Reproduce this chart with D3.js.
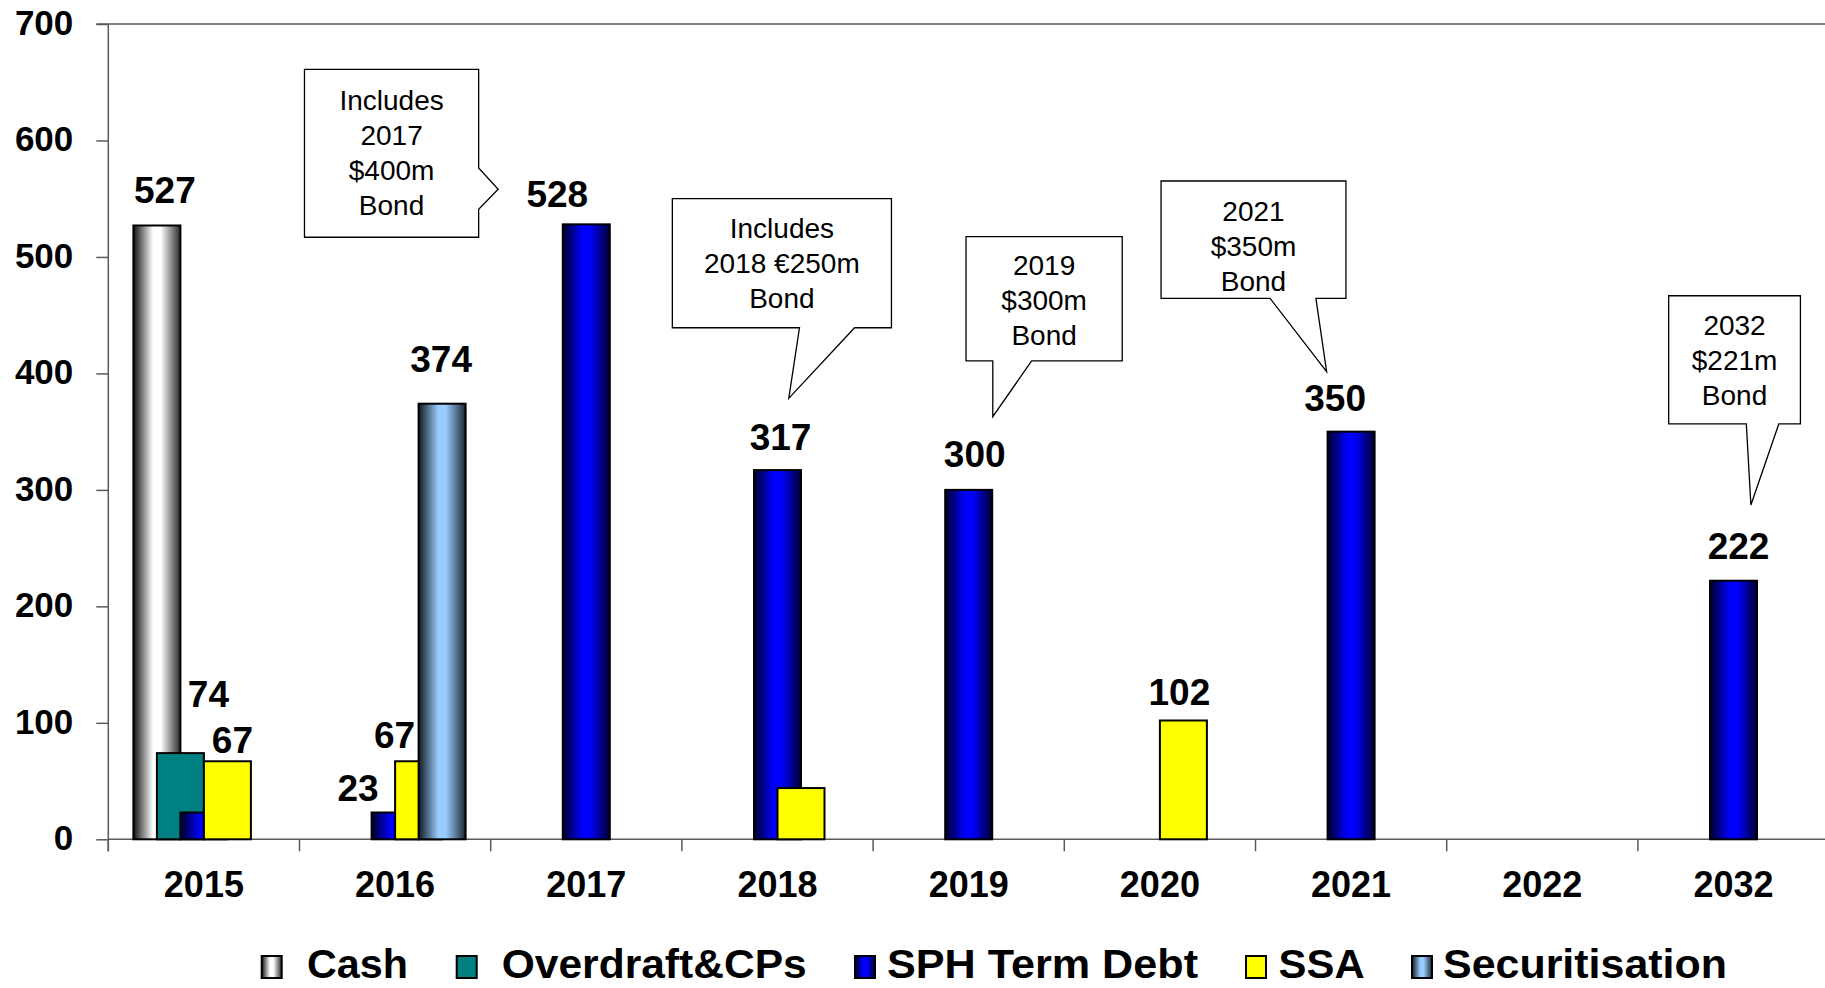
<!DOCTYPE html>
<html>
<head>
<meta charset="utf-8">
<script src="https://cdn.jsdelivr.net/npm/d3@7"></script>
<style>
  body { margin: 0; background: #fff; }
  text { font-family: "Liberation Sans", Arial, sans-serif; fill: #000; }
</style>
</head>
<body>
<div id="chart"></div>
<script>
// chart data
var categories = ["2015", "2016", "2017", "2018", "2019", "2020", "2021", "2022", "2032"];
var seriesNames = ["Cash", "Overdraft&CPs", "SPH Term Debt", "SSA", "Securitisation"];
var cash = [527, 0, 0, 0, 0, 0, 0, 0, 0];
var overdraft = [74, 0, 0, 0, 0, 0, 0, 0, 0];
var sphTermDebt = [23, 23, 528, 317, 300, 0, 350, 0, 222];
var ssa = [67, 67, 0, 44, 0, 102, 0, 0, 0];
var securitisation = [0, 374, 0, 0, 0, 0, 0, 0, 0];
var yTicks = [0, 100, 200, 300, 400, 500, 600, 700];

var seriesValues = [cash, overdraft, sphTermDebt, ssa, securitisation];

// callout notes
var noteTexts = [
  ["Includes", "2017", "$400m", "Bond"],
  ["Includes", "2018 €250m", "Bond"],
  ["2019", "$300m", "Bond"],
  ["2021", "$350m", "Bond"],
  ["2032", "$221m", "Bond"]
];

// layout
var svgWidth = 1825;
var svgHeight = 988;
var margin = { top: 24, left: 108.3 };
var width = 1720.8;
var height = 815.3;

var svg = d3.select("#chart")
  .append("svg")
  .attr("width", svgWidth)
  .attr("height", svgHeight);

var defs = svg.append("defs");

function cylinder(id, edgeL, mid, edgeR) {
  var g = defs.append("linearGradient").attr("id", id)
    .attr("x1", "0").attr("x2", "1").attr("y1", "0").attr("y2", "0");
  g.append("stop").attr("offset", "0").attr("stop-color", edgeL);
  g.append("stop").attr("offset", "0.42").attr("stop-color", mid);
  g.append("stop").attr("offset", "0.58").attr("stop-color", mid);
  g.append("stop").attr("offset", "1").attr("stop-color", edgeR);
}
cylinder("gCash", "#111", "#ffffff", "#2a2a2a");
cylinder("gSph", "#000028", "#0000ff", "#000030");
cylinder("gSec", "#101820", "#99ccff", "#1c2630");

var fills = ["url(#gCash)", "#008080", "url(#gSph)", "#ffff00", "url(#gSec)"];

var chartGroup = svg.append("g")
  .attr("transform", `translate(${margin.left}, ${margin.top})`);

var xBand = d3.scaleBand().domain(categories).range([0, width]).padding(0);
var xUnit = d3.scaleLinear().domain([0, categories.length]).range([0, width]);
var yScale = d3.scaleLinear().domain([0, 700]).range([height, 0]);

var bw = xBand.bandwidth();
var barW = bw * 0.2458;
var barStep = bw * 0.1229;
var groupStart = (bw - (barStep * 4 + barW)) / 2;

function barX(si, ci) {
  return xBand(categories[ci]) + groupStart + si * barStep;
}

// axes
var axisColor = "#5a5a5a";
var leftAxis = d3.axisLeft(yScale).tickValues(yTicks).tickSize(12).tickPadding(23);
var yAxisG = chartGroup.append("g").call(leftAxis);
yAxisG.select(".domain").remove();
yAxisG.selectAll("line").attr("stroke", axisColor).attr("stroke-width", 1.5);
yAxisG.selectAll("text")
  .attr("font-size", 35).attr("font-weight", "bold")
  .attr("font-family", "Liberation Sans, Arial, sans-serif")
  .attr("fill", "#000").attr("dy", "0.3em");

var xTickPos = d3.range(categories.length + 1).map(d => xUnit(d));
chartGroup.selectAll(".xtick")
  .data(xTickPos)
  .enter()
  .append("line")
  .attr("x1", d => d).attr("x2", d => d)
  .attr("y1", height).attr("y2", height + 12)
  .attr("stroke", axisColor).attr("stroke-width", 1.5);

chartGroup.append("line")
  .attr("x1", 0).attr("x2", width)
  .attr("y1", height).attr("y2", height)
  .attr("stroke", axisColor).attr("stroke-width", 1.5);
chartGroup.append("line")
  .attr("x1", -12).attr("x2", width)
  .attr("y1", 0).attr("y2", 0)
  .attr("stroke", axisColor).attr("stroke-width", 1.5);
chartGroup.append("line")
  .attr("x1", 0).attr("x2", 0)
  .attr("y1", 0).attr("y2", height + 12)
  .attr("stroke", axisColor).attr("stroke-width", 1.5);

chartGroup.selectAll(".xlabel")
  .data(categories)
  .enter()
  .append("text")
  .attr("x", d => xBand(d) + bw / 2)
  .attr("y", height + 58)
  .attr("text-anchor", "middle")
  .attr("font-size", 36)
  .attr("font-weight", "bold")
  .text(d => d);

// bars, drawn series by series so later ones overlap earlier
seriesValues.forEach(function(vals, si) {
  var rows = vals.map((v, ci) => ({ v: v, ci: ci })).filter(d => d.v > 0);
  chartGroup.selectAll(null)
    .data(rows)
    .enter()
    .append("rect")
    .attr("x", d => barX(si, d.ci))
    .attr("y", d => yScale(d.v))
    .attr("width", barW)
    .attr("height", d => height - yScale(d.v))
    .attr("fill", fills[si])
    .attr("stroke", "#000")
    .attr("stroke-width", 2);
});

// value labels (series index, category index, nudge x, nudge y)
var labelSpots = [
  [0, 0, 8, -22], [1, 0, 28, -46], [3, 0, 5, -8],
  [2, 1, -37, -12], [3, 1, -24, -13], [4, 1, -1, -32],
  [2, 2, -29, -17], [2, 3, 3, -20], [2, 4, 6, -23],
  [3, 5, -4, -15], [2, 6, -16, -21], [2, 8, 5, -22]
];
chartGroup.selectAll(".vlabel")
  .data(labelSpots)
  .enter()
  .append("text")
  .attr("x", d => barX(d[0], d[1]) + barW / 2 + d[2])
  .attr("y", d => yScale(seriesValues[d[0]][d[1]]) + d[3])
  .attr("text-anchor", "middle")
  .attr("font-size", 37)
  .attr("font-weight", "bold")
  .text(d => seriesValues[d[0]][d[1]]);

// callout boxes: box [u0, v0, u1, v1] in category units / values, pointer side, base pts, tip
var notes = [
  { box: [1.026, 661.1, 1.937, 516.9], side: "right", base: [576.4, 540.9], tip: [2.039, 558.1], shift: -1 },
  { box: [2.950, 550.0, 4.096, 439.2], side: "bottom", base: [3.615, 3.903], tip: [3.559, 378.6], shift: 0 },
  { box: [4.486, 517.4, 5.303, 410.7], side: "bottom", base: [4.626, 4.829], tip: [4.626, 362.8], shift: 1 },
  { box: [5.506, 565.2, 6.473, 464.5], side: "bottom", base: [6.076, 6.316], tip: [6.372, 401.5], shift: 6 },
  { box: [8.161, 466.7, 8.850, 356.6], side: "bottom", base: [8.567, 8.737], tip: [8.591, 287.0], shift: 0 }
];

notes.forEach(function(n, i) {
  var x0 = xUnit(n.box[0]), y0 = yScale(n.box[1]);
  var x1 = xUnit(n.box[2]), y1 = yScale(n.box[3]);
  var tx = xUnit(n.tip[0]), ty = yScale(n.tip[1]);
  var p = d3.path();
  p.moveTo(x0, y0);
  p.lineTo(x1, y0);
  if (n.side === "right") {
    p.lineTo(x1, yScale(n.base[0]));
    p.lineTo(tx, ty);
    p.lineTo(x1, yScale(n.base[1]));
    p.lineTo(x1, y1);
    p.lineTo(x0, y1);
  } else {
    p.lineTo(x1, y1);
    p.lineTo(xUnit(n.base[1]), y1);
    p.lineTo(tx, ty);
    p.lineTo(xUnit(n.base[0]), y1);
    p.lineTo(x0, y1);
  }
  p.closePath();
  chartGroup.append("path")
    .attr("d", p.toString())
    .attr("fill", "#fff")
    .attr("stroke", "#000")
    .attr("stroke-width", 1.3);

  var lines = noteTexts[i];
  var cx = (x0 + x1) / 2, cy = (y0 + y1) / 2 + n.shift;
  var lh = 35;
  chartGroup.append("g").selectAll("text")
    .data(lines)
    .enter()
    .append("text")
    .attr("x", cx)
    .attr("y", (d, k) => cy + (k - (lines.length - 1) / 2) * lh)
    .attr("dy", "0.36em")
    .attr("text-anchor", "middle")
    .attr("font-size", 28)
    .text(d => d);
});

// legend
var legendSwatchX = [261.7, 456.7, 855, 1246, 1412];
var legendTextX = [307, 501.7, 887, 1278.6, 1443];
var legendTextW = [101, 305, 311, 86, 284];
var legend = svg.append("g");
seriesNames.forEach(function(name, i) {
  legend.append("rect")
    .attr("x", legendSwatchX[i]).attr("y", 956)
    .attr("width", 20).attr("height", 22)
    .attr("fill", fills[i])
    .attr("stroke", "#000").attr("stroke-width", 2);
  legend.append("text")
    .attr("x", legendTextX[i]).attr("y", 978)
    .attr("font-size", 40)
    .attr("font-weight", "bold")
    .attr("textLength", legendTextW[i])
    .attr("lengthAdjust", "spacingAndGlyphs")
    .text(name);
});
</script>
</body>
</html>
